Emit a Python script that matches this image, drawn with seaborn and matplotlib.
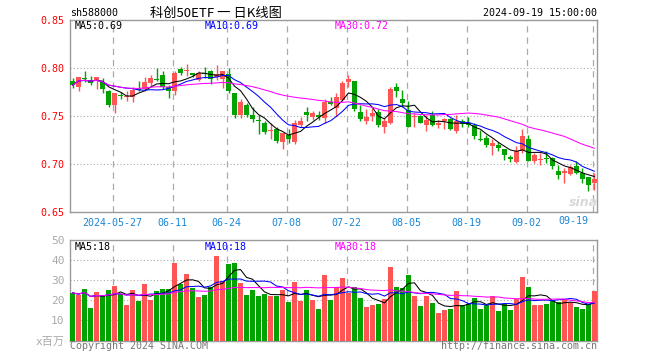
import numpy as np
import pandas as pd
import matplotlib
matplotlib.use("Agg")
import matplotlib.pyplot as plt
import seaborn as sns

# ---------------- data ----------------
opens = [0.7868, 0.7799, 0.7896, 0.7879, 0.7861, 0.7854, 0.7764, 0.7611, 0.7722, 0.7698,
         0.7695, 0.7785, 0.7778, 0.7847, 0.7889, 0.7931, 0.7799, 0.7757, 0.7986, 0.7965,
         0.7951, 0.7875, 0.7951, 0.7965, 0.7910, 0.7882, 0.7937, 0.7736, 0.7514, 0.7611,
         0.7507, 0.7462, 0.7424, 0.7340, 0.7361, 0.7229, 0.7306, 0.7229, 0.7410, 0.7542,
         0.7486, 0.7514, 0.7479, 0.7646, 0.7583, 0.7667, 0.7854, 0.7868, 0.7542, 0.7444,
         0.7500, 0.7542, 0.7389, 0.7431, 0.7799, 0.7681, 0.7563, 0.7486, 0.7500, 0.7403,
         0.7507, 0.7403, 0.7451, 0.7472, 0.7347, 0.7444, 0.7431, 0.7403, 0.7264, 0.7271,
         0.7188, 0.7194, 0.7153, 0.7070, 0.7021, 0.7132, 0.7264, 0.7028, 0.7042, 0.7063,
         0.7063, 0.6931, 0.6903, 0.6896, 0.6979, 0.6903, 0.6861, 0.6806]
highs = [0.7896, 0.7910, 0.7972, 0.7917, 0.7903, 0.7896, 0.7771, 0.7736, 0.7750, 0.7757,
         0.7806, 0.7868, 0.7910, 0.7931, 0.8000, 0.7965, 0.7826, 0.7965, 0.8007, 0.8042,
         0.7951, 0.7965, 0.8007, 0.7979, 0.8035, 0.7972, 0.8000, 0.7743, 0.7681, 0.7632,
         0.7597, 0.7507, 0.7444, 0.7424, 0.7389, 0.7319, 0.7368, 0.7458, 0.7493, 0.7590,
         0.7549, 0.7549, 0.7674, 0.7701, 0.7736, 0.7861, 0.7931, 0.7868, 0.7618, 0.7576,
         0.7583, 0.7576, 0.7479, 0.7806, 0.7847, 0.7771, 0.7660, 0.7528, 0.7514, 0.7514,
         0.7549, 0.7458, 0.7479, 0.7479, 0.7507, 0.7472, 0.7486, 0.7424, 0.7354, 0.7306,
         0.7264, 0.7229, 0.7160, 0.7097, 0.7188, 0.7361, 0.7299, 0.7118, 0.7111, 0.7132,
         0.7076, 0.6986, 0.6958, 0.6986, 0.7035, 0.6958, 0.6868, 0.6910]
lows = [0.7792, 0.7757, 0.7854, 0.7826, 0.7778, 0.7743, 0.7597, 0.7528, 0.7681, 0.7653,
        0.7646, 0.7757, 0.7757, 0.7813, 0.7861, 0.7778, 0.7688, 0.7722, 0.7924, 0.7917,
        0.7910, 0.7861, 0.7896, 0.7833, 0.7875, 0.7792, 0.7736, 0.7479, 0.7479, 0.7493,
        0.7438, 0.7313, 0.7313, 0.7257, 0.7215, 0.7153, 0.7222, 0.7208, 0.7389, 0.7444,
        0.7458, 0.7458, 0.7431, 0.7611, 0.7500, 0.7653, 0.7806, 0.7549, 0.7451, 0.7417,
        0.7444, 0.7389, 0.7326, 0.7417, 0.7701, 0.7590, 0.7382, 0.7389, 0.7424, 0.7340,
        0.7396, 0.7375, 0.7368, 0.7354, 0.7319, 0.7382, 0.7389, 0.7264, 0.7243, 0.7174,
        0.7090, 0.7132, 0.7042, 0.7021, 0.7007, 0.7111, 0.7028, 0.7014, 0.6993, 0.7007,
        0.6944, 0.6847, 0.6799, 0.6889, 0.6896, 0.6806, 0.6715, 0.6729]
closes = [0.7820, 0.7910, 0.7885, 0.7840, 0.7903, 0.7778, 0.7618, 0.7736, 0.7708, 0.7705,
          0.7771, 0.7771, 0.7854, 0.7896, 0.7875, 0.7799, 0.7757, 0.7951, 0.7944, 0.7979,
          0.7924, 0.7944, 0.7937, 0.7882, 0.7937, 0.7965, 0.7757, 0.7514, 0.7646, 0.7507,
          0.7465, 0.7445, 0.7333, 0.7354, 0.7243, 0.7319, 0.7257, 0.7431, 0.7444, 0.7514,
          0.7528, 0.7493, 0.7646, 0.7625, 0.7701, 0.7847, 0.7882, 0.7569, 0.7472, 0.7493,
          0.7535, 0.7410, 0.7444, 0.7785, 0.7757, 0.7632, 0.7389, 0.7500, 0.7431, 0.7458,
          0.7410, 0.7431, 0.7472, 0.7368, 0.7444, 0.7417, 0.7403, 0.7292, 0.7250, 0.7201,
          0.7215, 0.7167, 0.7090, 0.7056, 0.7132, 0.7292, 0.7035, 0.7090, 0.7056, 0.7049,
          0.6979, 0.6882, 0.6931, 0.6972, 0.6910, 0.6840, 0.6785, 0.6840]
volumes = [23.7, 22.5, 25.5, 16.0, 24.0, 22.0, 25.0, 27.0, 23.0, 17.5,
           25.0, 19.5, 28.0, 20.0, 24.5, 25.5, 25.5, 38.5, 28.0, 33.0,
           26.0, 21.5, 22.5, 26.5, 42.0, 29.5, 38.0, 38.5, 28.5, 22.5,
           25.0, 22.0, 23.0, 22.0, 22.0, 25.0, 19.0, 29.0, 19.5, 25.0,
           20.0, 15.5, 32.5, 20.0, 26.5, 31.0, 23.5, 26.5, 21.0, 16.5,
           17.5, 18.0, 20.5, 36.5, 26.5, 26.0, 32.5, 22.0, 17.0, 22.0,
           18.5, 13.5, 15.0, 15.5, 24.5, 17.5, 18.0, 21.0, 15.5, 17.5,
           22.0, 14.5, 18.0, 15.0, 20.5, 31.5, 26.5, 17.5, 17.5, 18.0,
           19.5, 19.0, 20.0, 19.0, 16.5, 15.5, 18.0, 24.5]
tick_idx = [7, 17, 26, 36, 46, 56, 66, 76, 87]
tick_labels = ["2024-05-27", "06-11", "06-24", "07-08", "07-22", "08-05", "08-19", "09-02", "09-19"]
price_ticks = [0.65, 0.70, 0.75, 0.80, 0.85]
price_tick_labels = ["0.65", "0.70", "0.75", "0.80", "0.85"]
vol_ticks = [0, 10, 20, 30, 40, 50]
vol_tick_labels = ["x百万", "10", "20", "30", "40", "50"]
code = "sh588000"
title = "科创50ETF 一 日K线图"
stamp = "2024-09-19 15:00:00"

# ---------------- derived ----------------
n = len(closes)
idx = np.arange(n)
df = pd.DataFrame({"i": idx, "open": opens, "high": highs, "low": lows,
                   "close": closes, "vol": volumes})
df["dir"] = np.where(df["close"] >= df["open"], "up", "down")
for w in (5, 10, 30):
    df[f"ma{w}"] = df["close"].rolling(w, min_periods=1).mean()
    df[f"vma{w}"] = df["vol"].rolling(w, min_periods=1).mean()

RED = "#ff5555"
GREEN = "#00a300"
MONO = ["DejaVu Sans Mono", "Noto Sans CJK SC"]
FS = 7.2
GRAYS = "#9a9a9a"
XLAB = "#1a86d6"
LW = 0.75

sns.set_theme(style="white")
plt.rcParams["font.family"] = MONO

W, H = 660, 360
fig = plt.figure(figsize=(W / 100, H / 100), dpi=100)
fig.patch.set_facecolor("white")

x0, x1 = 70, 597
ax = fig.add_axes([x0 / W, 1 - 212 / H, (x1 - x0) / W, (212 - 20) / H])
axv = fig.add_axes([x0 / W, 1 - 340.5 / H, (x1 - x0) / W, (340.5 - 240) / H])

xlim = (-0.42, n - 1 + 0.42)
tick_pos = [t - 0.3 for t in tick_idx]

# ---- candles ----
colors = [RED if d == "up" else GREEN for d in df["dir"]]
ax.vlines(df["i"], df["low"], df["high"], colors=colors, lw=1.0, zorder=3)
body_bottom = np.minimum(df["open"], df["close"])
body_h = np.maximum(np.abs(df["close"] - df["open"]), 0.0006)
ax.bar(df["i"], body_h, bottom=body_bottom, width=0.78, color=colors, lw=0, zorder=4)

# ---- MA lines ----
for col, c in (("ma5", "black"), ("ma10", "#0000ff"), ("ma30", "#ff00ff")):
    sns.lineplot(data=df, x="i", y=col, color=c, lw=LW, ax=ax, zorder=5,
                 estimator=None, legend=False)

ax.set_xlim(*xlim)
ax.set_ylim(0.65, 0.85)
for yv in (0.70, 0.75, 0.80):
    ax.axhline(yv, color="#aaaaaa", lw=0.8, ls=(0, (1, 2)), zorder=1)
for tp in tick_pos:
    ax.axvline(tp, color="#aaaaaa", lw=0.9, ls=(0, (5, 4)), zorder=1)
ax.set_yticks(price_ticks)
ax.set_yticklabels(price_tick_labels, color="#ff0000", fontsize=FS)
# x labels: all but the last centred on their ticks, the last one kept inside
ax.set_xticks(tick_pos[:-1])
ax.set_xticklabels(tick_labels[:-1], color=XLAB, fontsize=FS)
ax.tick_params(axis="both", length=0, pad=4)
ax.text((588 - x0) / (x1 - x0), -(221.5 - 212) / 192, tick_labels[-1],
        transform=ax.transAxes, color=XLAB, fontsize=FS, ha="right", va="center")
ax.set_xlabel("")
ax.set_ylabel("")
for s in ax.spines.values():
    s.set_color(GRAYS)
    s.set_linewidth(1.0)

# MA labels
ma5_txt = f"MA5:{df['ma5'].iloc[-1]:.2f}"
ma10_txt = f"MA10:{df['ma10'].iloc[-1]:.2f}"
ma30_txt = f"MA30:{df['ma30'].iloc[-1]:.2f}"
for xpx, txt, c in ((75, ma5_txt, "black"), (205, ma10_txt, "#0000ff"), (335, ma30_txt, "#ff00ff")):
    fig.text(xpx / W, 1 - 26 / H, txt, color=c, fontsize=FS, ha="left", va="center")

# sina watermark
fig.text(583 / W, 1 - 203 / H, "sina", color="#d8d8d8", fontsize=9, fontweight="bold",
         style="italic", ha="center", va="center", family="DejaVu Sans")

# ---- volume ----
sns.barplot(data=df, x="i", y="vol", hue="dir", palette={"up": RED, "down": GREEN},
            dodge=False, width=0.82, saturation=1, legend=False, ax=axv,
            linewidth=0, zorder=3)
for col, c in (("vma5", "black"), ("vma10", "#0000ff"), ("vma30", "#ff00ff")):
    axv.plot(df["i"], df[col], color=c, lw=LW, zorder=5)
axv.set_xlim(*xlim)
axv.set_ylim(0, 50)
for yv in (10, 20, 30, 40):
    axv.axhline(yv, color="#aaaaaa", lw=0.8, ls=(0, (1, 2)), zorder=1)
for tp in tick_pos:
    axv.axvline(tp, color="#aaaaaa", lw=0.9, ls=(0, (5, 4)), zorder=1)
axv.set_yticks(vol_ticks)
axv.set_yticklabels(vol_tick_labels, color="#aaaaaa", fontsize=FS + 0.8)
axv.set_xticks([])
axv.tick_params(axis="both", length=0, pad=4)
axv.set_xlabel("")
axv.set_ylabel("")
for s in axv.spines.values():
    s.set_color(GRAYS)
    s.set_linewidth(1.0)

v5 = f"MA5:{int(df['vma5'].iloc[-1])}"
v10 = f"MA10:{int(df['vma10'].iloc[-1])}"
v30 = f"MA30:{int(df['vma30'].iloc[-1])}"
for xpx, txt, c in ((75, v5, "black"), (205, v10, "#0000ff"), (335, v30, "#ff00ff")):
    fig.text(xpx / W, 1 - 246.5 / H, txt, color=c, fontsize=FS, ha="left", va="center")

# ---- header / footer ----
fig.text(70 / W, 1 - 13 / H, code, color="black", fontsize=FS, ha="left", va="center")
fig.text(216 / W, 1 - 13 / H, title, color="black", fontsize=9.5,
         ha="center", va="center", family=["Noto Sans CJK SC", "DejaVu Sans"])
fig.text(597 / W, 1 - 13 / H, stamp, color="black", fontsize=FS, ha="right", va="center")
fig.text(70 / W, 1 - 346 / H, "Copyright 2024 SINA.COM", color="#777777", fontsize=FS,
         ha="left", va="center")
fig.text(597 / W, 1 - 346 / H, "http://finance.sina.com.cn", color="#777777", fontsize=FS,
         ha="right", va="center")

fig.savefig("out.png", dpi=100, facecolor="white")
